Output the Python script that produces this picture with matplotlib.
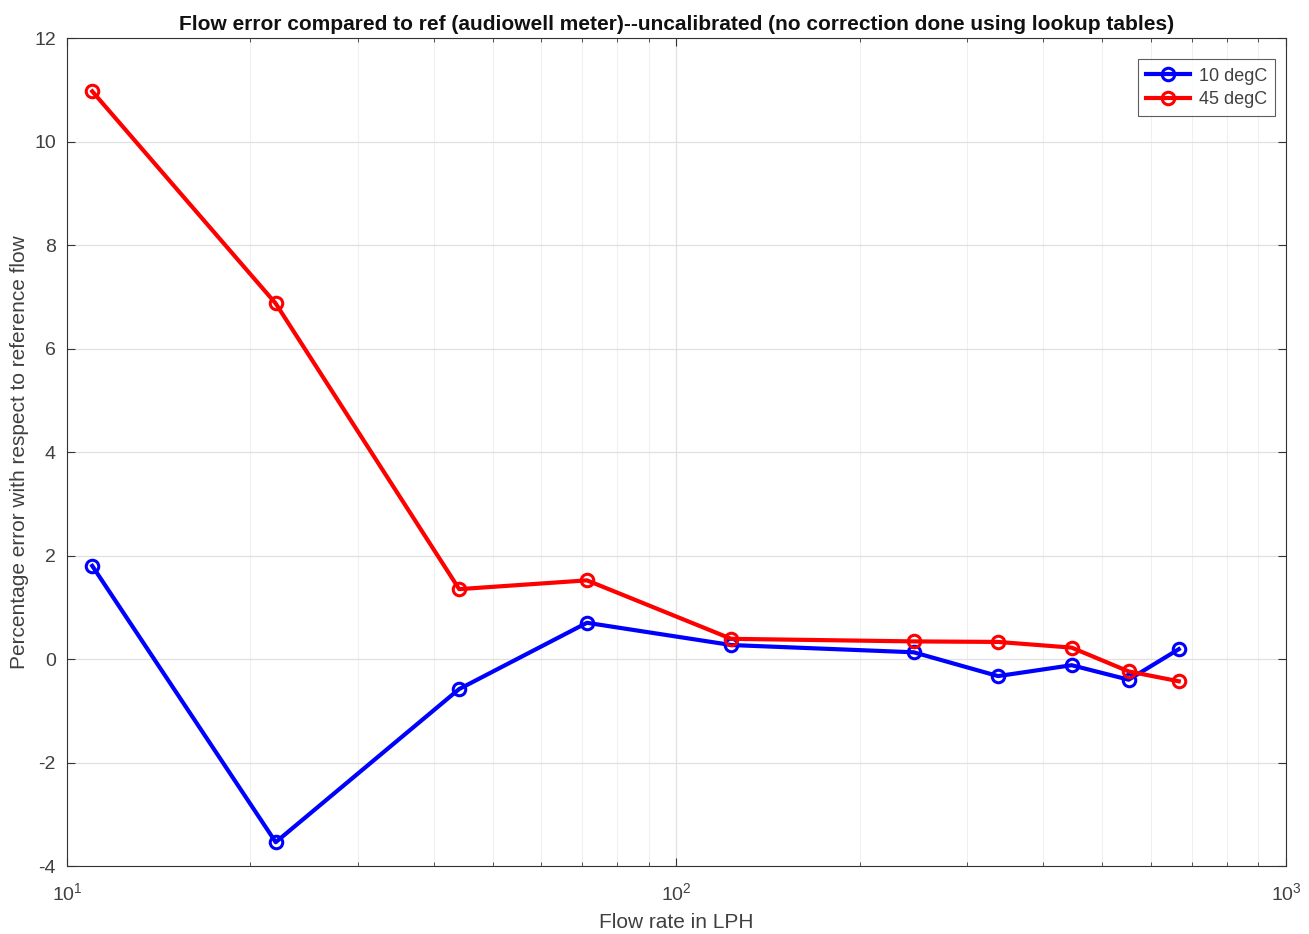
import matplotlib
matplotlib.use("Agg")
import matplotlib.pyplot as plt
from matplotlib.ticker import LogLocator, NullFormatter

flow_lph = [11, 22, 44, 71.3, 123, 245, 337, 445, 552, 667]
err_10 = [1.8, -3.54, -0.58, 0.7, 0.27, 0.13, -0.33, -0.12, -0.4, 0.19]
err_45 = [10.97, 6.87, 1.35, 1.52, 0.39, 0.34, 0.33, 0.22, -0.24, -0.43]
series_labels = ["10 degC", "45 degC"]
yticks = list(range(-4, 13, 2))

plt.rcParams['font.family'] = ['Liberation Sans', 'DejaVu Sans']
plt.rcParams['axes.unicode_minus'] = False

fig = plt.figure(figsize=(13.09, 9.34), dpi=100)
ax = fig.add_axes([0.0512, 0.0728, 0.9312, 0.8865])

ax.plot(flow_lph, err_10, color='#0000ff', lw=3, marker='o', ms=9, mfc='none',
        mew=2.2, label=series_labels[0])
ax.plot(flow_lph, err_45, color='#ff0000', lw=3, marker='o', ms=9, mfc='none',
        mew=2.2, label=series_labels[1])

ax.set_xscale('log')
ax.set_xlim(10, 1000)
ax.set_ylim(-4, 12)
ax.set_yticks(yticks)
ax.xaxis.set_major_locator(LogLocator(base=10, numticks=10))
ax.xaxis.set_minor_locator(LogLocator(base=10, subs=range(2, 10), numticks=20))
ax.xaxis.set_minor_formatter(NullFormatter())

ax.grid(True, which='major', color='#e0e0e0', lw=0.9)
ax.grid(True, which='minor', axis='x', color='#f0f0f0', lw=0.8)
ax.set_axisbelow(True)

for s in ax.spines.values():
    s.set_color('#333333')
    s.set_linewidth(0.8)
ax.tick_params(axis='both', which='both', direction='in', colors='#333333',
               labelsize=14, top=True, right=True)
ax.tick_params(which='major', length=6)
ax.tick_params(which='minor', length=3)
ax.tick_params(axis='x', which='major', pad=12)
ax.tick_params(axis='y', which='major', pad=8)
for lbl in ax.get_xticklabels() + ax.get_yticklabels():
    lbl.set_color('#404040')

ax.set_xlabel('Flow rate in LPH', fontsize=15, color='#404040', labelpad=6)
ax.set_ylabel('Percentage error with respect to reference flow', fontsize=15, color='#404040')
ax.set_title('Flow error compared to ref (audiowell meter)--uncalibrated (no correction done using lookup tables)',
             fontsize=15, fontweight='bold', color='#111111', pad=6)

leg = ax.legend(loc='upper right', bbox_to_anchor=(0.9985, 0.985), fontsize=13,
                frameon=True, fancybox=False, edgecolor='#333333', handlelength=2.4,
                borderpad=0.45, labelspacing=0.35, handletextpad=0.5)
leg.get_frame().set_linewidth(0.8)
for t in leg.get_texts():
    t.set_color('#404040')

fig.savefig('out.png', dpi=100, facecolor='white')
